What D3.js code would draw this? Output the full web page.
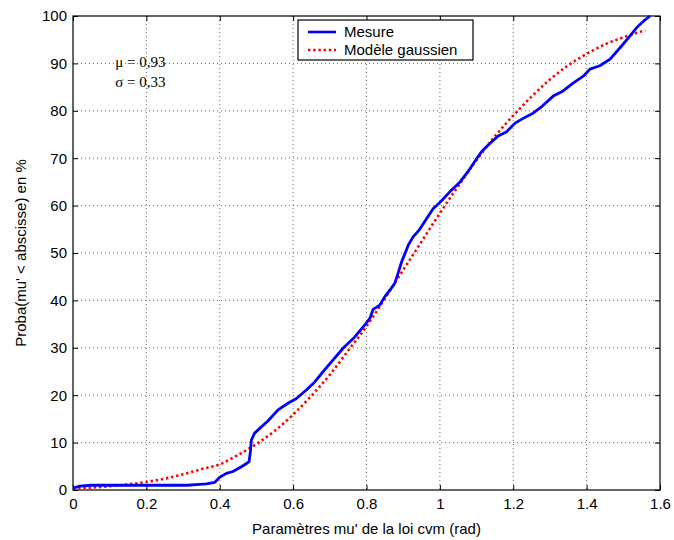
<!DOCTYPE html>
<html>
<head>
<meta charset="utf-8">
<script src="https://cdn.jsdelivr.net/npm/d3@7"></script>
<style>
  body { margin: 0; background: #fff; }
  svg { display: block; }
  text { font-family: "Liberation Sans", Arial, sans-serif; }
</style>
</head>
<body>
<div id="chart"></div>
<script>
// Measured empirical CDF (blue)
const measX = [0, 0.018, 0.05, 0.15, 0.25, 0.31, 0.345, 0.364, 0.386, 0.40, 0.418, 0.436, 0.459, 0.473, 0.48,
  0.484, 0.486, 0.495, 0.509, 0.532, 0.559, 0.586, 0.609, 0.636, 0.659, 0.682, 0.705, 0.736, 0.768, 0.795,
  0.809, 0.818, 0.836, 0.85, 0.864, 0.877, 0.886, 0.896, 0.905, 0.914, 0.927, 0.945, 0.964, 0.982, 1.002,
  1.027, 1.055, 1.077, 1.095, 1.114, 1.136, 1.159, 1.182, 1.205, 1.227, 1.254, 1.275, 1.309, 1.336, 1.364,
  1.391, 1.409, 1.436, 1.464, 1.491, 1.514, 1.536, 1.555, 1.573];
const measY = [0.4, 0.8, 1.0, 1.0, 1.0, 1.0, 1.2, 1.3, 1.6, 2.7, 3.5, 3.9, 4.9, 5.6, 6.0,
  8.4, 10.5, 12.0, 13.0, 14.6, 16.9, 18.3, 19.3, 21.1, 22.8, 25.0, 27.1, 29.9, 32.3, 34.8,
  36.2, 38.1, 39.0, 40.8, 42.2, 43.6, 45.7, 48.2, 49.9, 51.7, 53.4, 55.0, 57.3, 59.4, 60.8,
  62.9, 65.0, 67.2, 69.3, 71.4, 73.1, 74.7, 75.6, 77.4, 78.4, 79.5, 80.7, 83.1, 84.2, 85.9,
  87.3, 88.8, 89.5, 90.9, 93.3, 95.4, 97.5, 98.9, 100];

// Gaussian model (red dotted)
const modelX = [0, 0.05, 0.1, 0.15, 0.2, 0.25, 0.3, 0.35, 0.4, 0.45, 0.5, 0.55, 0.6, 0.65, 0.7, 0.75,
  0.8, 0.85, 0.9, 0.95, 1.0, 1.05, 1.1, 1.15, 1.2, 1.25, 1.3, 1.35, 1.4, 1.45, 1.5, 1.56];
const modelY = [0.3, 0.5, 0.8, 1.2, 1.7, 2.4, 3.3, 4.4, 5.4, 7.4, 9.7, 12.5, 15.9, 19.9, 24.3, 29.4,
  34.5, 40.4, 46.4, 52.4, 58.4, 64.1, 69.6, 74.6, 79.0, 83.0, 86.6, 89.6, 92.0, 94.0, 95.5, 97.0];

const xTicks = [0, 0.2, 0.4, 0.6, 0.8, 1, 1.2, 1.4, 1.6];
const yTicks = [0, 10, 20, 30, 40, 50, 60, 70, 80, 90, 100];
const seriesNames = ["Mesure", "Modèle gaussien"];
const stats = ["\u03bc = 0,93", "\u03c3 = 0,33"];

const W = 674, H = 540;
const margin = { top: 16, right: 14, bottom: 50, left: 73 };
const w = W - margin.left - margin.right;
const h = H - margin.top - margin.bottom;
const fontSize = "15px";

const svg = d3.select("#chart").append("svg")
  .attr("width", W).attr("height", H);
const g = svg.append("g").attr("transform", `translate(${margin.left},${margin.top})`);

const x = d3.scaleLinear().domain([0, 1.6]).range([0, w]);
const y = d3.scaleLinear().domain([0, 100]).range([h, 0]);

// Grid
g.append("g").selectAll("line").data(xTicks.slice(1, -1)).enter().append("line")
  .attr("x1", d => x(d)).attr("x2", d => x(d)).attr("y1", 0).attr("y2", h)
  .attr("stroke", "#444").attr("stroke-width", 0.8).attr("stroke-dasharray", "1,3");
g.append("g").selectAll("line").data(yTicks.slice(1, -1)).enter().append("line")
  .attr("y1", d => y(d)).attr("y2", d => y(d)).attr("x1", 0).attr("x2", w)
  .attr("stroke", "#444").attr("stroke-width", 0.8).attr("stroke-dasharray", "1,3");

// Axes (ticks pointing inward, on all four sides)
const fmt = d => String(d);
const styleAxis = sel => {
  sel.select(".domain").remove();
  sel.selectAll("text").style("font-size", fontSize).style("font-family", "Liberation Sans, Arial, sans-serif");
  sel.selectAll("line").attr("stroke", "#000");
};
g.append("g").attr("transform", `translate(0,${h})`)
  .call(d3.axisBottom(x).tickValues(xTicks).tickFormat(fmt).tickSizeInner(-5).tickSizeOuter(0).tickPadding(8))
  .call(styleAxis);
g.append("g")
  .call(d3.axisTop(x).tickValues(xTicks).tickFormat("").tickSizeInner(-5).tickSizeOuter(0))
  .call(styleAxis);
g.append("g")
  .call(d3.axisLeft(y).tickValues(yTicks).tickFormat(fmt).tickSizeInner(-5).tickSizeOuter(0).tickPadding(6))
  .call(styleAxis);
g.append("g").attr("transform", `translate(${w},0)`)
  .call(d3.axisRight(y).tickValues(yTicks).tickFormat("").tickSizeInner(-5).tickSizeOuter(0))
  .call(styleAxis);

// Box
g.append("rect").attr("x", 0).attr("y", 0).attr("width", w).attr("height", h)
  .attr("fill", "none").attr("stroke", "#000").attr("stroke-width", 1.2);

// Curves
const clip = svg.append("clipPath").attr("id", "clip").append("rect")
  .attr("x", 0).attr("y", -2).attr("width", w).attr("height", h + 2);
const line = d3.line().x(d => x(d[0])).y(d => y(d[1]));

g.append("path")
  .datum(modelX.map((v, i) => [v, modelY[i]]))
  .attr("d", d3.line().curve(d3.curveMonotoneX).x(d => x(d[0])).y(d => y(d[1])))
  .attr("fill", "none").attr("stroke", "#ff0000").attr("stroke-width", 2.6)
  .attr("stroke-dasharray", "2.4,2.8");

g.append("path")
  .datum(measX.map((v, i) => [v, measY[i]]))
  .attr("clip-path", "url(#clip)")
  .attr("d", line)
  .attr("fill", "none").attr("stroke", "#0000ff").attr("stroke-width", 2.8)
  .attr("stroke-linejoin", "round");

// Statistics annotation
g.selectAll(".stat").data(stats).enter().append("text")
  .attr("x", x(0.115)).attr("y", (d, i) => 51 + i * 20)
  .style("font-family", "Liberation Serif, Times New Roman, serif")
  .style("font-size", fontSize)
  .text(d => d);

// Legend
const lg = svg.append("g").attr("transform", "translate(298,20)");
lg.append("rect").attr("width", 175).attr("height", 40)
  .attr("fill", "#fff").attr("stroke", "#000").attr("stroke-width", 1.2);
const legendStyles = [
  { color: "#0000ff", dash: null },
  { color: "#ff0000", dash: "2.4,2.8" }
];
seriesNames.forEach((name, i) => {
  const yy = 12 + i * 18;
  lg.append("line").attr("x1", 10).attr("x2", 38).attr("y1", yy).attr("y2", yy)
    .attr("stroke", legendStyles[i].color).attr("stroke-width", 2.6)
    .attr("stroke-dasharray", legendStyles[i].dash);
  lg.append("text").attr("x", 46).attr("y", yy + 5)
    .style("font-size", fontSize).text(name);
});

// Axis titles
svg.append("text")
  .attr("x", margin.left + w / 2).attr("y", 534)
  .attr("text-anchor", "middle").style("font-size", fontSize)
  .text("Paramètres mu' de la loi cvm (rad)");
svg.append("text")
  .attr("transform", `translate(26,${margin.top + h / 2}) rotate(-90)`)
  .attr("text-anchor", "middle").style("font-size", fontSize)
  .text("Proba(mu' < abscisse) en %");
</script>
</body>
</html>
